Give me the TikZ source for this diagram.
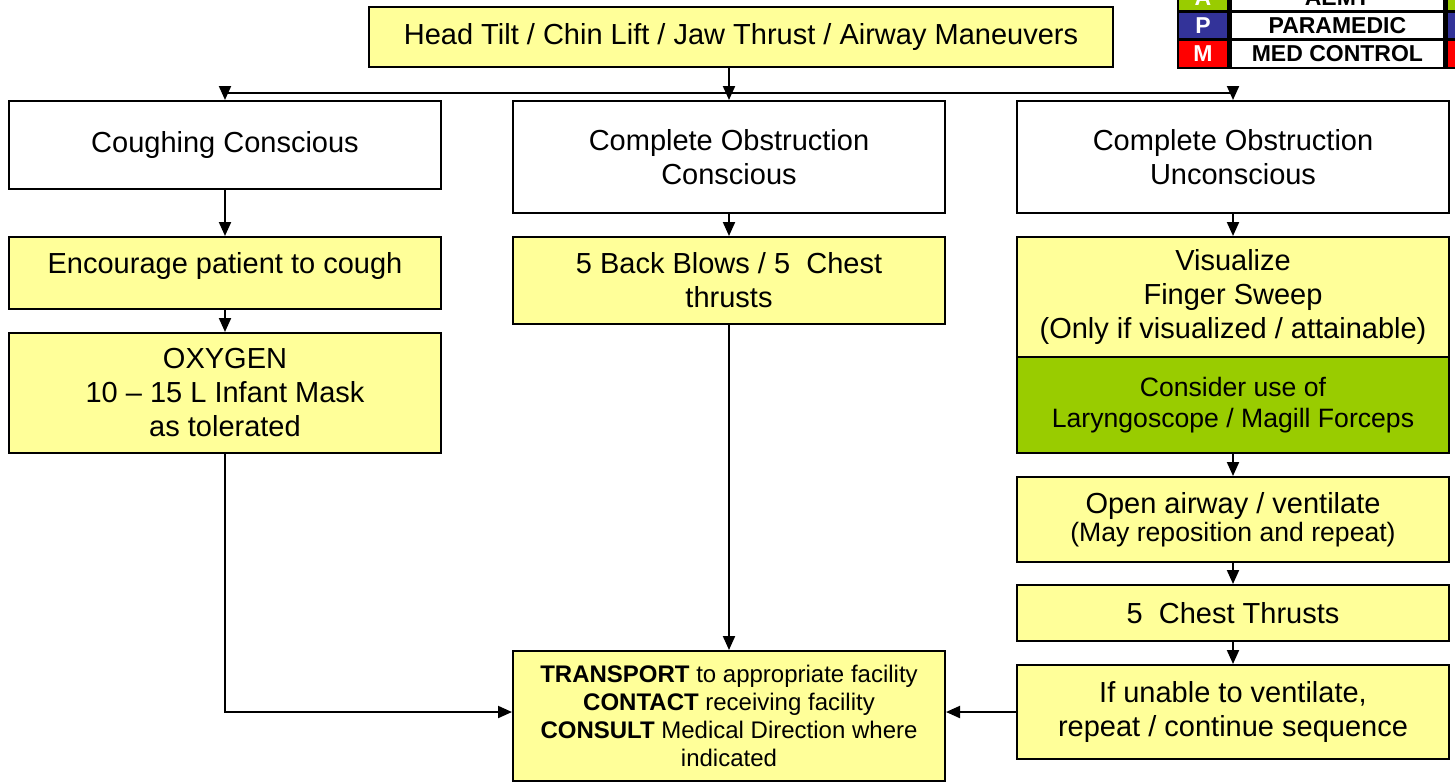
\documentclass[tikz,border=0pt]{standalone}
\usepackage{fontspec}
\setmainfont{Liberation Sans}
\usepackage{xcolor}
\usepackage{tikz}
\usetikzlibrary{arrows.meta, positioning}

\definecolor{boxyellow}{HTML}{FFFF99}
\definecolor{aemtgreen}{HTML}{99CC00}
\definecolor{parablue}{HTML}{333399}
\definecolor{medred}{HTML}{FF0000}

\begin{document}
\begin{tikzpicture}[
    x=0.5pt, y=-0.5pt,
    box/.style={rectangle, draw=black, line width=1pt, inner sep=0pt, minimum width=216pt, align=center, font=\fontsize{14.5}{17}\selectfont},
    ybox/.style={box, fill=boxyellow},
    wbox/.style={box, fill=white},
    gbox/.style={box, fill=aemtgreen, font=\fontsize{13.3}{15.5}\selectfont},
    arr/.style={-{Triangle[width=6pt,length=7pt]}, line width=1pt},
    lgbox/.style={rectangle, draw=black, line width=1.2pt, inner sep=0pt, minimum height=14pt, font=\fontsize{11.5}{13}\selectfont\bfseries}
]
\useasboundingbox (0,0) rectangle (1455,783);

\node[ybox, minimum width=372pt, minimum height=30pt] (top) at (741,37) {Head Tilt / Chin Lift / Jaw Thrust / Airway Maneuvers};

\node[wbox, minimum height=44pt] (cough) at (225,145) {Coughing Conscious};
\node[wbox, minimum height=56pt] (cobc) at (729,157) {Complete Obstruction\\Conscious};
\node[wbox, minimum height=56pt] (cobu) at (1233,157) {Complete Obstruction\\Unconscious};

\node[ybox, minimum height=36pt, text depth=10pt] (enc) at (225,273) {Encourage patient to cough};
\node[ybox, minimum height=60pt] (oxy) at (225,393) {OXYGEN\\10 -- 15 L Infant Mask\\as tolerated};

\node[ybox, minimum height=43.5pt] (blows) at (729,280.5) {5 Back Blows / 5\ \ Chest\\thrusts};

\node[ybox, minimum height=60pt] (vis) at (1233,297) {Visualize\\Finger Sweep\\(Only if visualized / attainable)};
\node[gbox, minimum height=48pt] (lary) at (1233,405) {Consider use of\\Laryngoscope / Magill Forceps};
\node[ybox, minimum height=42.5pt] (open) at (1233,519.5) {Open airway / ventilate\\[-3pt]{\fontsize{13.3}{15}\selectfont(May reposition and repeat)}};
\node[ybox, minimum height=28pt] (chest) at (1233,613) {5\ \ Chest Thrusts};
\node[ybox, minimum height=47pt] (unable) at (1233,712) {If unable to ventilate,\\repeat / continue sequence};

\node[ybox, minimum height=65pt, font=\fontsize{12}{14}\selectfont] (transport) at (729,716) {\textbf{TRANSPORT} to appropriate facility\\\textbf{CONTACT} receiving facility\\\textbf{CONSULT} Medical Direction where\\indicated};

\foreach \ltr/\txt/\col/\yy [count=\i] in {A/AEMT/aemtgreen/-2, P/PARAMEDIC/parablue/25.5, M/MED CONTROL/medred/54}{
  \node[lgbox, fill=\col, text=white, minimum width=25pt] (lgl\i) at (1203,\yy) {\ltr};
  \node[lgbox, fill=white, minimum width=107pt, right=0pt of lgl\i] (lgt\i) {\txt};
  \node[lgbox, fill=\col, minimum width=25pt, right=0pt of lgt\i] (lgc\i) {};
}

\coordinate (split) at (729,93);
\draw[line width=1pt] (top.south -| split) -- (split);
\draw[line width=1pt] (split -| cough) -- (split -| cobu);
\draw[arr] (split -| cough) -- (cough.north);
\draw[arr] (split) -- (cobc.north);
\draw[arr] (split -| cobu) -- (cobu.north);

\draw[arr] (cough) -- (enc);
\draw[arr] (enc) -- (oxy);
\draw[arr] (oxy.south) |- (unable.west -| transport.west);

\draw[arr] (cobc) -- (blows);
\draw[arr] (blows) -- (transport);

\draw[arr] (cobu) -- (vis);
\draw[arr] (lary) -- (open);
\draw[arr] (open) -- (chest);
\draw[arr] (chest) -- (unable);
\draw[arr] (unable.west) -- (unable.west -| transport.east);
\end{tikzpicture}
\end{document}
